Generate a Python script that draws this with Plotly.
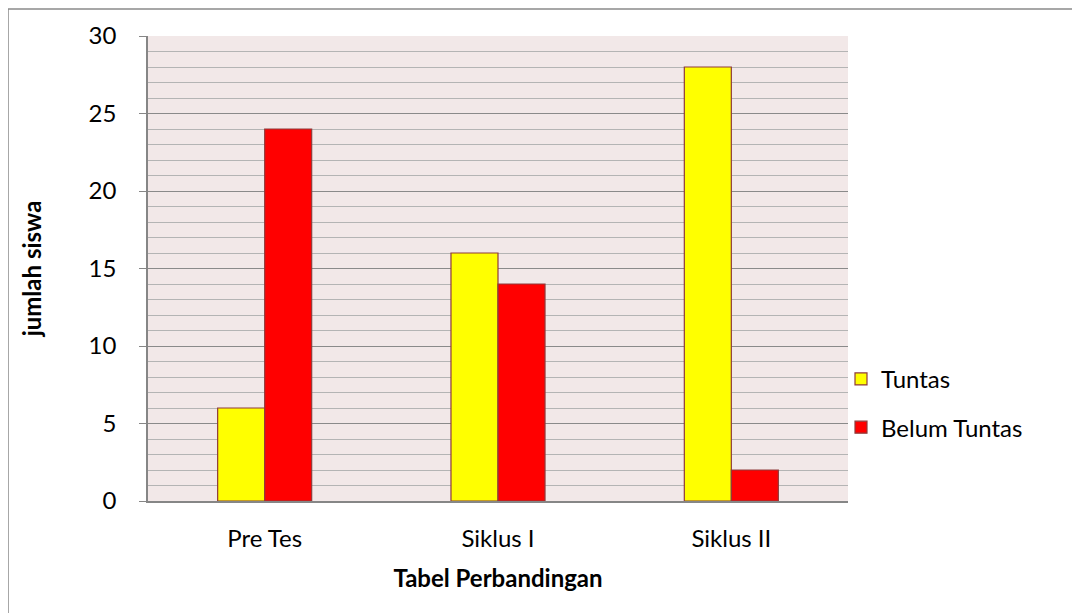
import plotly.graph_objects as go

categories = ["Pre Tes", "Siklus I", "Siklus II"]
tuntas = [6, 16, 28]
belum_tuntas = [24, 14, 2]
y_ticks = [0, 5, 10, 15, 20, 25, 30]

FONT = "Lato, Carlito, Calibri, sans-serif"
FS = 24
outline = dict(color="#8E3B3B", width=1.2)

fig = go.Figure()
fig.add_trace(go.Bar(x=categories, y=tuntas, name="Tuntas", marker=dict(color="#FFFF00", line=outline), legendgroup="a"))
fig.add_trace(go.Bar(x=categories, y=belum_tuntas, name="Belum Tuntas", marker=dict(color="#FF0000", line=outline), legendgroup="b"))

fig.update_layout(
    width=1072, height=605,
    margin=dict(l=140, r=232, t=28, b=112),
    paper_bgcolor="white",
    plot_bgcolor="#F2E8E8",
    barmode="group",
    bargap=0.597,
    bargroupgap=0,
    font=dict(family=FONT, size=FS, color="black"),
    legend=dict(x=0.99, xanchor="left", y=0.31, yanchor="top", tracegroupgap=14,
                font=dict(size=FS), itemwidth=30, bgcolor="rgba(0,0,0,0)"),
    xaxis=dict(
        showline=True, linecolor="#868686", linewidth=1.5,
        ticks="", showgrid=False, ticklabelstandoff=15,
        title=dict(text="<b>Tabel Perbandingan</b>", standoff=20, font=dict(size=FS)),
        tickfont=dict(size=FS),
    ),
    yaxis=dict(
        range=[0, 30], tickvals=y_ticks,
        showline=True, linecolor="#868686", linewidth=1.5,
        ticks="outside", ticklen=7, tickcolor="#868686", ticklabelstandoff=18,
        showgrid=True, gridcolor="#8A8A8A", gridwidth=1,
        minor=dict(dtick=1, showgrid=True, gridcolor="#B4B4B4", gridwidth=1, ticks=""),
        zeroline=False,
        title=dict(text="<b>jumlah siswa</b>", standoff=40, font=dict(size=FS)),
        tickfont=dict(size=FS),
    ),
    shapes=[dict(type="rect", xref="paper", yref="paper", x0=-0.2, x1=1.6, y0=-0.5, y1=1.058,
                 line=dict(color="#8A8A8A", width=1.5), fillcolor="rgba(0,0,0,0)", layer="below")],
)

fig.write_html("out.html")
